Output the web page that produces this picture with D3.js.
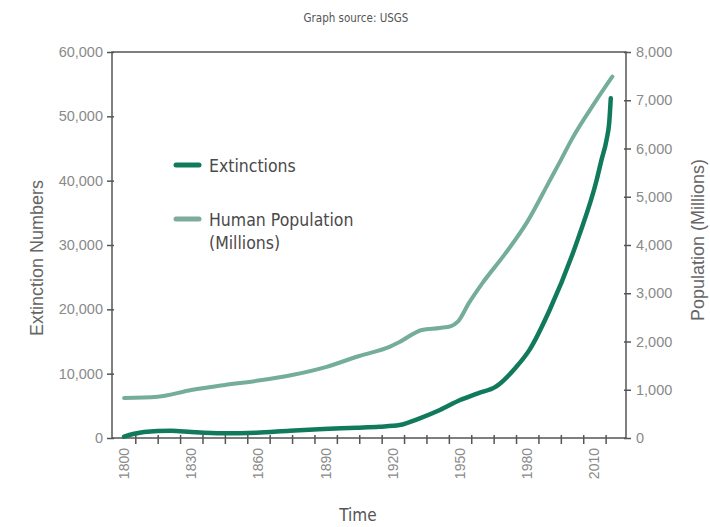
<!DOCTYPE html>
<html>
<head>
<meta charset="utf-8">
<script src="https://cdn.jsdelivr.net/npm/d3@7"></script>
<style>
  body { margin: 0; background: #fff; }
  .tick text { font-family: "Liberation Sans", Arial, sans-serif; fill: #8a8a8a; }
  .cond { font-family: "DejaVu Sans Condensed", "Liberation Sans Narrow", "DejaVu Sans", sans-serif; font-stretch: condensed; }
</style>
</head>
<body>
<div id="chart"></div>
<script>
const WIDTH = 710
const HEIGHT = 527

// extinctions (left axis)
const extYears = [1800, 1804, 1815, 1821, 1830, 1844, 1859, 1874, 1889, 1904, 1914, 1923, 1932, 1941, 1950, 1958, 1966, 1975, 1981, 1990, 2003, 2011, 2013, 2015.5, 2016.6, 2017.3]
const extValues = [200, 620, 1090, 1135, 930, 730, 820, 1135, 1400, 1600, 1760, 2020, 3060, 4350, 5900, 6950, 7980, 11000, 13700, 19900, 31300, 40100, 43000, 46500, 49000, 52800]

// human population in millions (right axis)
const popYears = [1800, 1815, 1830, 1845, 1860, 1875, 1890, 1905, 1919, 1923, 1933, 1941, 1946, 1949, 1954, 1960, 1970, 1980, 1990, 1995, 2000, 2010, 2018]
const popValues = [830, 856, 995, 1100, 1190, 1305, 1470, 1700, 1900, 1990, 2240, 2280, 2320, 2410, 2800, 3210, 3810, 4480, 5330, 5760, 6200, 6940, 7490]

const xLabelYears = [1800, 1830, 1860, 1890, 1920, 1950, 1980, 2010]
const xTickYears = d3.range(1805, 2016, 10)
const leftTicks = [0, 10000, 20000, 30000, 40000, 50000, 60000]
const rightTicks = [0, 1000, 2000, 3000, 4000, 5000, 6000, 7000, 8000]

const EXT_COLOR = "#127a5c"
const POP_COLOR = "#74ad9a"
const AXIS_COLOR = "#555"

const plotLeft = 112, plotRight = 626, plotTop = 52, plotBottom = 438

const svg = d3.select("#chart").append("svg")
    .attr("width", WIDTH)
    .attr("height", HEIGHT)

const x = d3.scaleLinear().domain([1794.6, 2024.1]).range([plotLeft, plotRight])
const yLeft = d3.scaleLinear().domain([0, 60000]).range([plotBottom, plotTop])
const yRight = d3.scaleLinear().domain([0, 8000]).range([plotBottom, plotTop])

// title
svg.append("text")
    .attr("class", "cond")
    .attr("x", 356)
    .attr("y", 22)
    .attr("text-anchor", "middle")
    .attr("font-size", 11.5)
    .attr("fill", "#555")
    .text("Graph source: USGS")

// left axis
const gLeft = svg.append("g")
    .attr("transform", `translate(${plotLeft},0)`)
    .call(d3.axisLeft(yLeft).tickValues(leftTicks).tickFormat(d3.format(",")).tickSize(5).tickPadding(4))
gLeft.select(".domain").remove()
gLeft.selectAll(".tick line").attr("x2", -5).attr("x1", 2).attr("stroke", AXIS_COLOR).attr("stroke-width", 1.5)
gLeft.selectAll(".tick text").attr("font-size", 14.5)

// right axis
const gRight = svg.append("g")
    .attr("transform", `translate(${plotRight},0)`)
    .call(d3.axisRight(yRight).tickValues(rightTicks).tickFormat(d3.format(",")).tickSize(5).tickPadding(5))
gRight.select(".domain").remove()
gRight.selectAll(".tick line").attr("x1", -2).attr("x2", 5).attr("stroke", AXIS_COLOR).attr("stroke-width", 1.5)
gRight.selectAll(".tick text").attr("font-size", 14.5)

// bottom ticks (no labels)
const gBottom = svg.append("g")
    .attr("transform", `translate(0,${plotBottom})`)
    .call(d3.axisBottom(x).tickValues(xTickYears).tickFormat("").tickSize(6))
gBottom.select(".domain").remove()
gBottom.selectAll(".tick line").attr("y1", -3).attr("stroke", AXIS_COLOR).attr("stroke-width", 1.5)

// bottom labels, rotated
svg.append("g")
    .selectAll("text")
    .data(xLabelYears)
    .join("text")
    .attr("transform", d => `translate(${x(d) + 5},${plotBottom + 10}) rotate(-90)`)
    .attr("text-anchor", "end")
    .attr("font-family", "Liberation Sans, Arial, sans-serif")
    .attr("font-size", 14)
    .attr("fill", "#8a8a8a")
    .text(d => d)

// frame
svg.append("rect")
    .attr("x", plotLeft)
    .attr("y", plotTop)
    .attr("width", plotRight - plotLeft)
    .attr("height", plotBottom - plotTop)
    .attr("fill", "none")
    .attr("stroke", AXIS_COLOR)
    .attr("stroke-width", 1.5)

// axis titles
svg.append("text")
    .attr("transform", "translate(43,258) rotate(-90)")
    .attr("text-anchor", "middle")
    .attr("font-family", "Liberation Sans, Arial, sans-serif")
    .attr("font-size", 18)
    .attr("fill", "#666")
    .text("Extinction Numbers")

svg.append("text")
    .attr("transform", "translate(704,240) rotate(-90)")
    .attr("text-anchor", "middle")
    .attr("font-family", "Liberation Sans, Arial, sans-serif")
    .attr("font-size", 18)
    .attr("fill", "#666")
    .text("Population (Millions)")

svg.append("text")
    .attr("class", "cond")
    .attr("x", 358)
    .attr("y", 521)
    .attr("text-anchor", "middle")
    .attr("font-size", 17)
    .attr("fill", "#555")
    .text("Time")

// lines
const popLine = d3.line()
    .x((d, i) => x(popYears[i]))
    .y(d => yRight(d))
    .curve(d3.curveMonotoneX)

const extLine = d3.line()
    .x((d, i) => x(extYears[i]))
    .y(d => yLeft(d))
    .curve(d3.curveMonotoneX)

svg.append("path")
    .datum(popValues)
    .attr("d", popLine)
    .attr("fill", "none")
    .attr("stroke", POP_COLOR)
    .attr("stroke-width", 4)
    .attr("stroke-linecap", "round")

svg.append("path")
    .datum(extValues)
    .attr("d", extLine)
    .attr("fill", "none")
    .attr("stroke", EXT_COLOR)
    .attr("stroke-width", 4.5)
    .attr("stroke-linecap", "round")

// legend
const legendItems = [
    { label: ["Extinctions"], color: EXT_COLOR, y: 165 },
    { label: ["Human Population", "(Millions)"], color: "#7fab9d", y: 219 }
]

const legend = svg.append("g")
    .selectAll("g")
    .data(legendItems)
    .join("g")
    .attr("transform", d => `translate(176,${d.y})`)

legend.append("line")
    .attr("x1", 0)
    .attr("x2", 23)
    .attr("stroke", d => d.color)
    .attr("stroke-width", 5)
    .attr("stroke-linecap", "round")

legend.append("text")
    .attr("class", "cond")
    .attr("x", 33)
    .attr("y", 7)
    .attr("font-size", 17.5)
    .attr("fill", "#4a4a4a")
    .selectAll("tspan")
    .data(d => d.label)
    .join("tspan")
    .attr("x", 33)
    .attr("dy", (d, i) => i === 0 ? 0 : 23)
    .text(d => d)
</script>
</body>
</html>
